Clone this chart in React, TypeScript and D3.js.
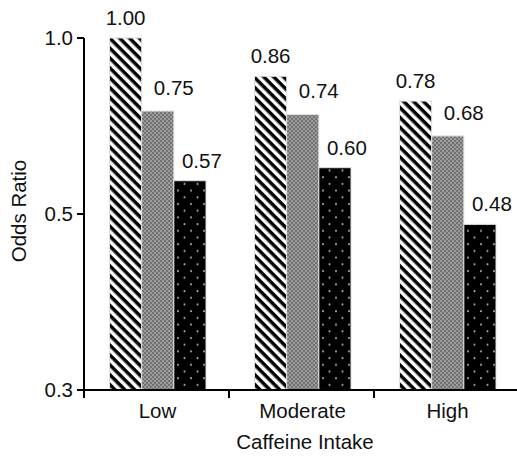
import { useRef, useEffect } from 'react';
import * as d3 from 'd3';

const categories = ['Low', 'Moderate', 'High'];
const series = ['s1', 's2', 's3'];
const s1Values = [1.0, 0.86, 0.78];
const s2Values = [0.75, 0.74, 0.68];
const s3Values = [0.57, 0.6, 0.48];
const yTicks = [0.25, 0.5, 1.0];

const W = 517;
const H = 456;

function App() {
    const ref = useRef<SVGSVGElement>(null);

    useEffect(() => {
        const root = d3.select(ref.current);
        root.selectAll('*').remove();
        root.attr('width', W).attr('height', H);

        const font = 'Arial, "Liberation Sans", sans-serif';
        const fs = '20.5px';

        // patterns
        const defs = root.append('defs');
        const stripes = defs.append('pattern')
            .attr('id', 'stripes')
            .attr('patternUnits', 'userSpaceOnUse')
            .attr('width', 7).attr('height', 7)
            .attr('patternTransform', 'rotate(45)');
        stripes.append('rect').attr('width', 7).attr('height', 7).attr('fill', '#fff');
        stripes.append('rect').attr('width', 7).attr('height', 3.5).attr('fill', '#000');

        const checks = defs.append('pattern')
            .attr('id', 'checks')
            .attr('patternUnits', 'userSpaceOnUse')
            .attr('width', 4).attr('height', 4);
        checks.append('rect').attr('width', 4).attr('height', 4).attr('fill', '#9c9c9c');
        checks.append('rect').attr('width', 2).attr('height', 2).attr('fill', '#727272');
        checks.append('rect').attr('x', 2).attr('y', 2).attr('width', 2).attr('height', 2).attr('fill', '#727272');

        const dots = defs.append('pattern')
            .attr('id', 'dots')
            .attr('patternUnits', 'userSpaceOnUse')
            .attr('width', 13).attr('height', 13.4);
        dots.append('rect').attr('width', 13).attr('height', 13.4).attr('fill', '#000');
        dots.append('circle').attr('cx', 3).attr('cy', 3).attr('r', 1).attr('fill', '#aaa');
        dots.append('circle').attr('cx', 9.5).attr('cy', 9.7).attr('r', 1).attr('fill', '#aaa');

        const fills = ['url(#stripes)', 'url(#checks)', 'url(#dots)'];
        const labelDx = [0, 16, 12];
        const labelDy = [-13, -16, -13];

        const x0 = d3.scaleBand().domain(categories).range([84, 519]).padding(0);
        const x1 = d3.scaleBand().domain(series).range([25.5, 122]).padding(0);
        const y = d3.scaleLog().domain([0.25, 1]).range([390, 38]);

        const data = categories.map((c, i) => ({
            cat: c,
            vals: [s1Values[i], s2Values[i], s3Values[i]],
        }));

        const groups = root.selectAll('g.grp')
            .data(data)
            .enter()
            .append('g')
            .attr('class', 'grp')
            .attr('transform', d => `translate(${x0(d.cat)},0)`);

        groups.selectAll('rect')
            .data(d => d.vals.map((v, j) => ({ key: series[j], v, j })))
            .enter()
            .append('rect')
            .attr('x', d => x1(d.key)!)
            .attr('y', d => y(d.v))
            .attr('width', x1.bandwidth())
            .attr('height', d => 390 - y(d.v))
            .attr('fill', d => fills[d.j])
            .attr('stroke', '#e0e0e0')
            .attr('stroke-width', 1);

        groups.selectAll('text')
            .data(d => d.vals.map((v, j) => ({ key: series[j], v, j })))
            .enter()
            .append('text')
            .attr('x', d => x1(d.key)! + x1.bandwidth() / 2 + labelDx[d.j])
            .attr('y', d => y(d.v) + labelDy[d.j])
            .attr('text-anchor', 'middle')
            .style('font-family', font)
            .style('font-size', fs)
            .style('fill', '#111')
            .text(d => d3.format('.2f')(d.v));

        // y axis
        const yAxis = root.append('g').attr('transform', 'translate(84,0)');
        yAxis.append('line')
            .attr('x1', 0).attr('x2', 0)
            .attr('y1', y(1)).attr('y2', 398)
            .attr('stroke', '#000').attr('stroke-width', 2);
        yTicks.forEach(t => {
            yAxis.append('line')
                .attr('x1', -7).attr('x2', 0)
                .attr('y1', y(t)).attr('y2', y(t))
                .attr('stroke', '#000').attr('stroke-width', 2);
            yAxis.append('text')
                .attr('x', -11)
                .attr('y', y(t))
                .attr('dy', '0.35em')
                .attr('text-anchor', 'end')
                .style('font-family', font)
                .style('font-size', fs)
                .style('fill', '#111')
                .text(d3.format('.1f')(t));
        });

        // x axis
        const xAxis = root.append('g').attr('transform', 'translate(0,390)');
        xAxis.append('line')
            .attr('x1', 84).attr('x2', W)
            .attr('y1', 0).attr('y2', 0)
            .attr('stroke', '#000').attr('stroke-width', 2);
        categories.slice(1).forEach(c => {
            xAxis.append('line')
                .attr('x1', x0(c)!).attr('x2', x0(c)!)
                .attr('y1', 0).attr('y2', 8)
                .attr('stroke', '#000').attr('stroke-width', 2);
        });
        categories.forEach(c => {
            xAxis.append('text')
                .attr('x', x0(c)! + x0.bandwidth() / 2 + 1)
                .attr('y', 28)
                .attr('text-anchor', 'middle')
                .style('font-family', font)
                .style('font-size', fs)
                .style('fill', '#111')
                .text(c);
        });

        root.append('text')
            .attr('x', 305)
            .attr('y', 449)
            .attr('text-anchor', 'middle')
            .style('font-family', font)
            .style('font-size', fs)
            .style('fill', '#111')
            .text('Caffeine Intake');

        root.append('text')
            .attr('transform', 'translate(26,211) rotate(-90)')
            .attr('text-anchor', 'middle')
            .style('font-family', font)
            .style('font-size', fs)
            .style('fill', '#111')
            .text('Odds Ratio');
    }, []);

    return <svg ref={ref} style={{ position: 'absolute', left: 0, top: 0, background: '#fff' }} />;
}

export default App;
